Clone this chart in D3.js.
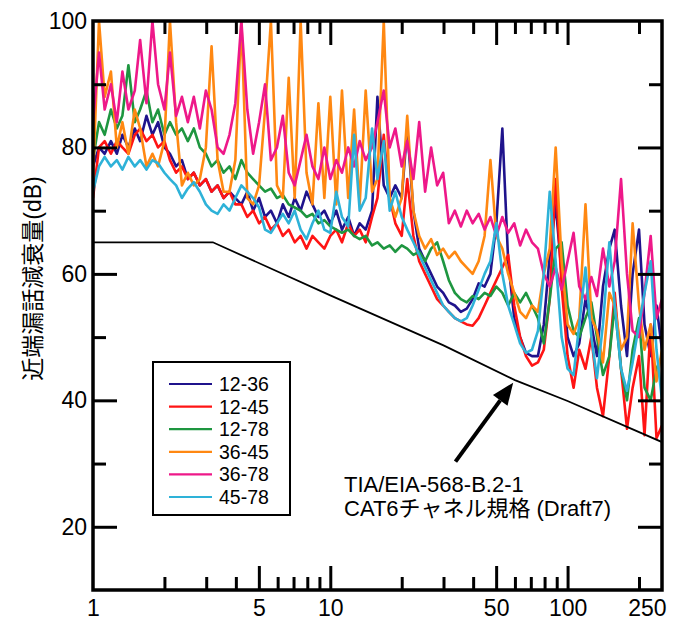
<!DOCTYPE html>
<html>
<head>
<meta charset="utf-8">
<script src="https://cdn.jsdelivr.net/npm/d3@7"></script>
<style>
body { margin: 0; background: #fff; }
text { font-family: "Liberation Sans", Arial, "Noto Sans CJK JP", sans-serif; fill: #000; }
</style>
</head>
<body>
<div id="plot"></div>
<script>
const WIDTH = 687;
const HEIGHT = 623;
const MARGIN = {left: 93, right: 25, top: 21, bottom: 33};

// frequency grid (MHz)
const freqs = [1, 1.06, 1.12, 1.19, 1.26, 1.33, 1.41, 1.5, 1.58, 1.68,
    1.78, 1.88, 2, 2.11, 2.24, 2.37, 2.51, 2.66, 2.82, 2.99,
    3.16, 3.35, 3.55, 3.76, 3.98, 4.22, 4.47, 4.73, 5.01, 5.31,
    5.62, 5.96, 6.31, 6.68, 7.08, 7.5, 7.94, 8.41, 8.91, 9.44,
    10, 10.6, 11.2, 11.9, 12.6, 13.3, 14.1, 15, 15.8, 16.8,
    17.8, 18.8, 20, 21.1, 22.4, 23.7, 25.1, 26.6, 28.2, 29.9,
    31.6, 33.5, 35.5, 37.6, 39.8, 42.2, 44.7, 47.3, 50.1, 53.1,
    56.2, 59.6, 63.1, 66.8, 70.8, 75, 79.4, 84.1, 89.1, 94.4,
    100, 106, 112, 119, 126, 133, 141, 150, 158, 168,
    178, 188, 200, 211, 224, 237, 250];

// NEXT (dB) for each pair
const next12_36 = [77, 80, 79, 81, 79, 82, 80, 83, 81, 85,
    82, 84, 80, 79, 77, 78, 75, 76, 74, 75,
    73, 74, 72, 73, 72, 71, 73, 70, 72, 69,
    70, 68, 71, 69, 72, 70, 73, 71, 69, 70,
    68, 70, 67, 69, 66, 68, 67, 70, 88, 74,
    72, 74, 72, 83, 70, 64, 62, 60, 58, 57,
    55.5, 55, 54, 54.5, 56, 58.5, 58, 60, 68, 83,
    62, 53, 50, 47.5, 47, 47, 52, 63, 71, 60,
    50, 47, 49, 56, 52, 47, 58, 64, 67, 55,
    47, 60, 67, 52, 47, 55, 48];
const next12_45 = [72, 80, 81, 79, 81, 80, 79, 82, 83, 81,
    82, 80, 81, 78, 76, 77, 75, 76, 74, 75,
    73, 74, 72, 73, 71, 71, 69, 70, 68, 69,
    67, 68, 66, 67, 65, 66, 64, 66, 65, 64,
    66, 67, 65, 68, 66, 67, 65, 69, 72, 82,
    72, 68, 66, 75, 66, 62, 60, 58, 56, 55,
    54, 53, 52.5, 52, 51.8, 53, 55, 57, 59, 61,
    63, 55, 50, 47, 45.5, 46, 48, 56, 75, 58,
    47, 42, 48, 45, 50, 42, 37.5, 47, 57, 45,
    35.5, 42, 47, 34.5, 52, 34, 36];
const next12_78 = [78, 84, 82, 86, 83, 85, 93, 84, 86, 89,
    84, 86, 82, 84, 82, 83, 81, 83, 80, 79,
    77, 78, 76, 77, 75, 78, 76, 75, 74, 73,
    73.5, 72, 72.5, 71, 70.5, 70, 69, 69.5, 68, 68.5,
    67.5, 67, 66.5, 67, 66, 65.5, 66, 64.5, 65, 64,
    64.5, 63.5, 64.5, 64, 63, 63.5, 62, 64, 65, 62,
    59, 57, 56, 55.5, 56.5, 56, 57, 56.5, 58, 57,
    55, 57, 55.5, 57, 55, 53, 49, 56, 64, 65,
    55, 51, 50, 53, 55.5, 50, 44, 47, 55, 45,
    40, 48, 53, 42, 40, 45, 47];
const next36_45 = [75, 100, 88, 92, 80, 84, 79, 86, 83, 77,
    79, 77, 81, 100, 84, 74, 76, 74, 75, 80,
    96, 78, 73, 73, 78, 100, 72, 71, 74, 86,
    100, 74, 72, 91, 72, 100, 76, 71, 87, 72,
    88, 71, 89, 72, 86, 71, 89, 73, 75, 100,
    72, 69, 72, 85, 70, 66, 64, 65.5, 63, 64,
    62.5, 63.5, 62, 61, 60, 62, 66, 78, 66, 64,
    60, 57, 54, 53, 55, 54, 60, 64, 80, 62,
    52, 50.5, 53, 71, 53, 51, 46, 57, 55, 48,
    50, 68, 55, 48, 52, 43, 48];
const next36_78 = [84, 95, 86, 90, 84, 92, 86, 89, 97, 87,
    100, 90, 86, 95, 85, 88, 84, 88, 83, 89,
    86, 80, 79, 82, 87, 100, 86, 79, 84, 90,
    78, 80, 85, 76, 74, 78, 82, 77, 75, 80,
    75, 78, 76, 80, 77, 81, 78, 80, 84, 89,
    80, 83, 77, 81, 75, 84, 73, 80, 74, 76,
    68, 70, 67.5, 70, 68, 69.5, 67, 69, 66, 69,
    66.5, 68, 64.5, 67, 65, 64, 60, 58, 61, 57.5,
    62, 66.5, 58, 56, 59.5, 56.5, 64, 58, 62, 75,
    60, 51, 50, 57, 66, 53, 56];
const next45_78 = [73, 77, 78.5, 77, 78, 76.5, 78.5, 77, 78, 76.5,
    78, 77.5, 76, 75, 74, 72, 73.5, 74.5, 73, 71,
    70, 69.5, 71, 70, 72, 74, 73, 72, 70.5, 67,
    66.5, 68, 69.5, 68, 70, 67, 65.5, 68, 70, 67,
    66.5, 73, 69, 67.5, 82, 70, 72, 83, 75, 81,
    70, 73, 69, 67, 65, 63, 61, 59, 57, 55,
    54, 53, 52.5, 53, 55, 57.5, 60, 62, 68, 60,
    55, 52, 49, 47.5, 48, 51, 60, 73, 62, 50,
    45, 44, 52, 61, 50, 43.5, 52, 65, 55, 45,
    41.5, 46, 52, 57, 62, 48, 40];

const pairNames = ['12-36', '12-45', '12-78', '36-45', '36-78', '45-78'];
const pairColors = ['#1f138c', '#ff1414', '#1e9640', '#ff8812', '#ee1889', '#2eb2d8'];
const pairValues = [next12_36, next12_45, next12_78, next36_45, next36_78, next45_78];

// TIA/EIA-568-B.2-1 CAT6 channel limit
const limitFreqs = [1, 3.2, 10, 30, 60, 100, 250];
const limitValues = [65, 65, 56.6, 48.7, 43.2, 39.9, 33.4];

const xMajorTicks = [5, 10, 50, 100];
const xMinorTicks = [2, 3, 4, 6, 7, 8, 9, 20, 30, 40, 60, 70, 80, 90, 200];
const xTickLabels = [1, 5, 10, 50, 100, 250];
const yMajorTicks = [20, 40, 60, 80];
const yMinorTicks = [30, 50, 70, 90];
const yTickLabels = [20, 40, 60, 80, 100];

const MAJOR_LEN = 24;
const MINOR_LEN = 13;

var svg = d3.select('#plot')
    .append('svg')
    .attr('width', WIDTH)
    .attr('height', HEIGHT);

const x = d3.scaleLog()
    .domain([1, 250])
    .range([MARGIN.left, WIDTH - MARGIN.right]);
const y = d3.scaleLinear()
    .domain([10, 100])
    .range([HEIGHT - MARGIN.bottom, MARGIN.top]);

const plotW = WIDTH - MARGIN.left - MARGIN.right;
const plotH = HEIGHT - MARGIN.top - MARGIN.bottom;

svg.append('clipPath')
    .attr('id', 'clip')
    .append('rect')
    .attr('x', MARGIN.left)
    .attr('y', MARGIN.top)
    .attr('width', plotW)
    .attr('height', plotH);

// measured curves
const line = d3.line()
    .x(d => x(d.f))
    .y(d => y(d.v));

const curves = svg.append('g').attr('clip-path', 'url(#clip)');

pairValues.forEach((vals, k) => {
    let pts = freqs.map((f, i) => ({f: f, v: vals[i]}));
    curves.append('path')
        .datum(pts)
        .attr('fill', 'none')
        .attr('stroke', pairColors[k])
        .attr('stroke-width', 2.6)
        .attr('stroke-linejoin', 'round')
        .attr('d', line);
});

// limit line
let limitPts = limitFreqs.map((f, i) => ({f: f, v: limitValues[i]}));
curves.append('path')
    .datum(limitPts)
    .attr('fill', 'none')
    .attr('stroke', '#000')
    .attr('stroke-width', 1.8)
    .attr('d', line);

// ticks on all four sides, pointing inward
function tickAxis(axis, tr, values, len) {
    let g = svg.append('g')
        .attr('transform', tr)
        .call(axis.tickValues(values).tickSize(-len).tickFormat(''));
    g.select('.domain').remove();
    g.selectAll('line').attr('stroke', '#000').attr('stroke-width', 3);
}

const bottomY = HEIGHT - MARGIN.bottom;
const rightX = WIDTH - MARGIN.right;

tickAxis(d3.axisBottom(x), `translate(0,${bottomY})`, xMajorTicks, MAJOR_LEN);
tickAxis(d3.axisBottom(x), `translate(0,${bottomY})`, xMinorTicks, MINOR_LEN);
tickAxis(d3.axisTop(x), `translate(0,${MARGIN.top})`, xMajorTicks, MAJOR_LEN);
tickAxis(d3.axisTop(x), `translate(0,${MARGIN.top})`, xMinorTicks, MINOR_LEN);
tickAxis(d3.axisLeft(y), `translate(${MARGIN.left},0)`, yMajorTicks, MAJOR_LEN);
tickAxis(d3.axisLeft(y), `translate(${MARGIN.left},0)`, yMinorTicks, MINOR_LEN);
tickAxis(d3.axisRight(y), `translate(${rightX},0)`, yMajorTicks, MAJOR_LEN);
tickAxis(d3.axisRight(y), `translate(${rightX},0)`, yMinorTicks, MINOR_LEN);

// frame
svg.append('rect')
    .attr('x', MARGIN.left)
    .attr('y', MARGIN.top)
    .attr('width', plotW)
    .attr('height', plotH)
    .attr('fill', 'none')
    .attr('stroke', '#000')
    .attr('stroke-width', 3.5);

// tick labels
let xLab = svg.append('g')
    .attr('transform', `translate(0,${bottomY})`)
    .call(d3.axisBottom(x).tickValues(xTickLabels).tickSize(0).tickPadding(10).tickFormat(d3.format('d')));
xLab.select('.domain').remove();
xLab.selectAll('text')
    .attr('font-size', 23)
    .attr('font-family', '"Liberation Sans", Arial, sans-serif');
xLab.selectAll('.tick')
    .filter(d => d == 250)
    .select('text')
    .attr('text-anchor', 'end')
    .attr('dx', 4);

let yLab = svg.append('g')
    .attr('transform', `translate(${MARGIN.left},0)`)
    .call(d3.axisLeft(y).tickValues(yTickLabels).tickSize(0).tickPadding(6));
yLab.select('.domain').remove();
yLab.selectAll('text')
    .attr('font-size', 23)
    .attr('font-family', '"Liberation Sans", Arial, sans-serif');

// y axis title
svg.append('text')
    .attr('transform', `translate(33,${(MARGIN.top + bottomY) / 2 - 27}) rotate(-90)`)
    .attr('text-anchor', 'middle')
    .attr('dy', '0.35em')
    .attr('font-size', 23)
    .text('近端漏話減衰量(dB)');

// legend
const legend = svg.append('g');
legend.append('rect')
    .attr('x', 153)
    .attr('y', 362)
    .attr('width', 137)
    .attr('height', 153)
    .attr('fill', '#fff')
    .attr('stroke', '#000')
    .attr('stroke-width', 2);

pairNames.forEach((name, k) => {
    let ly = 384 + k * 22.6;
    legend.append('line')
        .attr('x1', 169).attr('x2', 212)
        .attr('y1', ly).attr('y2', ly)
        .attr('stroke', pairColors[k])
        .attr('stroke-width', 2.2);
    legend.append('text')
        .attr('x', 219)
        .attr('y', ly)
        .attr('dy', '0.36em')
        .attr('font-size', 19.5)
        .text(name);
});

// annotation with arrow pointing at the limit line
const tip = [x(59), y(42.8)];
const tail = [x(33.7), y(30.3)];
const ang = Math.atan2(tip[1] - tail[1], tip[0] - tail[0]);
const headLen = 22, headW = 9;
const base = [tip[0] - headLen * Math.cos(ang), tip[1] - headLen * Math.sin(ang)];

svg.append('line')
    .attr('x1', tail[0]).attr('y1', tail[1])
    .attr('x2', base[0]).attr('y2', base[1])
    .attr('stroke', '#000')
    .attr('stroke-width', 4);
svg.append('polygon')
    .attr('points', [
        tip,
        [base[0] + headW * Math.sin(ang), base[1] - headW * Math.cos(ang)],
        [base[0] - headW * Math.sin(ang), base[1] + headW * Math.cos(ang)]
    ].map(p => p.join(',')).join(' '))
    .attr('fill', '#000');

const note = svg.append('text')
    .attr('x', 344)
    .attr('font-size', 22);
note.append('tspan')
    .attr('x', 344)
    .attr('y', 492)
    .text('TIA/EIA-568-B.2-1');
note.append('tspan')
    .attr('x', 344)
    .attr('y', 516)
    .text('CAT6チャネル規格 (Draft7)');
</script>
</body>
</html>
